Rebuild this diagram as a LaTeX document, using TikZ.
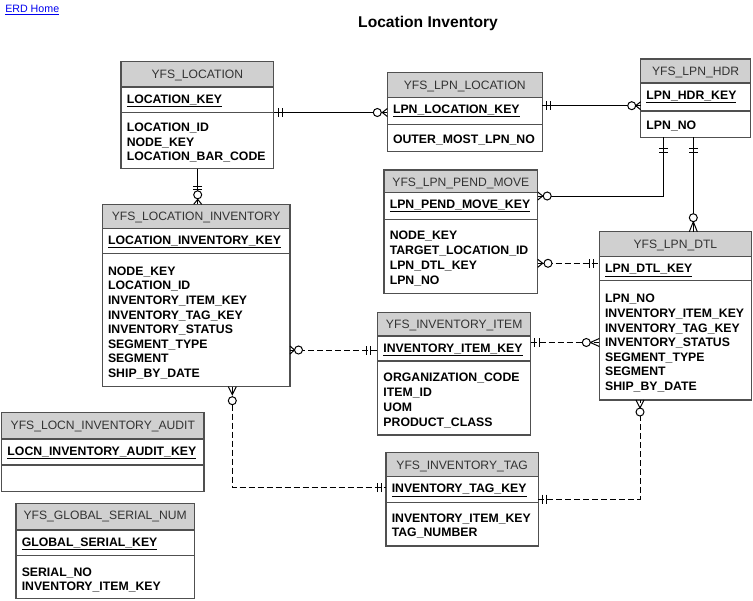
\documentclass[tikz,border=0pt]{standalone}
\usepackage{fontspec}
\setmainfont{Liberation Sans}
\usetikzlibrary{fit}
\definecolor{hdrfill}{RGB}{208,208,208}
\definecolor{boxline}{RGB}{80,80,80}
\definecolor{linkblue}{RGB}{0,0,238}
\tikzset{
  entity/.style={draw=boxline, line width=0.9pt, inner sep=0pt, outer sep=0pt},
  divider/.style={draw=boxline, line width=0.9pt},
  hdrtext/.style={font=\fontsize{9.1pt}{11pt}\selectfont, text=black!80, inner sep=0pt, anchor=base},
  keytext/.style={font=\bfseries\fontsize{9.2pt}{11pt}\selectfont, inner sep=0pt, anchor=base west},
  attrtext/.style={font=\bfseries\fontsize{9.2pt}{11pt}\selectfont, inner sep=0pt, anchor=base west},
  rel/.style={draw=black, line width=0.75pt},
  optrel/.style={rel, dash pattern=on 4.5pt off 2.25pt},
  pics/onebars/.style 2 args={code={\draw[line width=0.75pt] (#1,-4.5)--(#1,4.5) (#2,-4.5)--(#2,4.5);}},
  pics/zmany/.style 2 args={code={\draw[line width=0.75pt] (0,-4)--(#1,0)--(0,4); \draw[line width=0.75pt,fill=white] (#2,0) circle[radius=4];}},
}
% name, left, top, right, header bottom, key bottom, bottom, title, key
\newcommand{\erdentity}[9]{%
  \fill[white] (#2,#3) rectangle (#4,#7);
  \fill[hdrfill] (#2,#3) rectangle (#4,#5);
  \draw[divider] (#2,#5) -- (#4,#5) (#2,#6) -- (#4,#6);
  \node[entity, fit={(#2,#3) (#4,#7)}] (#1) {};
  \node[hdrtext] (#1-title) at ({(#2+#4)/2},{#3+16.5}) {#8};
  \node[keytext] (#1-key) at ({#2+5.5},{#5+16}) {\underline{#9}};
}
% name, left, first centre, spacing, list
\newcommand{\erdattrs}[5]{%
  \foreach \a [count=\i] in {#5} {\node[attrtext] (#1-a\i) at ({#2+5.5},{#3+4.3+(\i-1)*#4}) {\a};}
}
\begin{document}
\begin{tikzpicture}[x=0.75pt,y=-0.75pt]
\useasboundingbox (0,0) rectangle (753,600);

\node[font=\fontsize{8pt}{10pt}\selectfont, text=linkblue, anchor=base west, inner sep=0pt] (home) at (5,12) {\underline{ERD Home}};
\node[font=\bfseries\fontsize{11.7pt}{14pt}\selectfont, anchor=base, inner sep=0pt] (title) at (428,27.3) {Location Inventory};

\erdentity{loc}{121}{61.7}{273.7}{87}{112.3}{168.5}{YFS\_LOCATION}{LOCATION\_KEY}
\erdattrs{loc}{121}{127.5}{14.5}{LOCATION\_ID,NODE\_KEY,LOCATION\_BAR\_CODE}

\erdentity{lpnloc}{387.3}{72.7}{542.3}{97.3}{124.3}{151.7}{YFS\_LPN\_LOCATION}{LPN\_LOCATION\_KEY}
\erdattrs{lpnloc}{387.3}{138.7}{14.6}{OUTER\_MOST\_LPN\_NO}

\erdentity{lpnhdr}{640.7}{59}{750.5}{83}{111}{137.3}{YFS\_LPN\_HDR}{LPN\_HDR\_KEY}
\erdattrs{lpnhdr}{640.7}{125.3}{14.6}{LPN\_NO}

\erdentity{pend}{384}{170}{537.7}{192.3}{219.3}{293.3}{YFS\_LPN\_PEND\_MOVE}{LPN\_PEND\_MOVE\_KEY}
\erdattrs{pend}{384}{235.5}{15}{NODE\_KEY,TARGET\_LOCATION\_ID,LPN\_DTL\_KEY,LPN\_NO}

\erdentity{locinv}{102.3}{204.3}{290}{228.3}{253.3}{386.7}{YFS\_LOCATION\_INVENTORY}{LOCATION\_INVENTORY\_KEY}
\erdattrs{locinv}{102.3}{270.8}{14.64}{NODE\_KEY,LOCATION\_ID,INVENTORY\_ITEM\_KEY,INVENTORY\_TAG\_KEY,INVENTORY\_STATUS,SEGMENT\_TYPE,SEGMENT,SHIP\_BY\_DATE}

\erdentity{lpndtl}{599.3}{231.7}{751.5}{256.7}{280.7}{400}{YFS\_LPN\_DTL}{LPN\_DTL\_KEY}
\erdattrs{lpndtl}{599.3}{298.5}{14.6}{LPN\_NO,INVENTORY\_ITEM\_KEY,INVENTORY\_TAG\_KEY,INVENTORY\_STATUS,SEGMENT\_TYPE,SEGMENT,SHIP\_BY\_DATE}

\erdentity{invitem}{377.7}{312.3}{530.7}{336}{361}{435}{YFS\_INVENTORY\_ITEM}{INVENTORY\_ITEM\_KEY}
\erdattrs{invitem}{377.7}{377.5}{14.9}{ORGANIZATION\_CODE,ITEM\_ID,UOM,PRODUCT\_CLASS}

\erdentity{invtag}{386}{452.7}{538.3}{476.7}{502.7}{546}{YFS\_INVENTORY\_TAG}{INVENTORY\_TAG\_KEY}
\erdattrs{invtag}{386}{518.2}{14.4}{INVENTORY\_ITEM\_KEY,TAG\_NUMBER}

\erdentity{audit}{1.7}{412.7}{204}{439}{465}{491.7}{YFS\_LOCN\_INVENTORY\_AUDIT}{LOCN\_INVENTORY\_AUDIT\_KEY}

\erdentity{global}{16}{503.3}{194.3}{530}{555.7}{598.5}{YFS\_GLOBAL\_SERIAL\_NUM}{GLOBAL\_SERIAL\_KEY}
\erdattrs{global}{16}{572}{14}{SERIAL\_NO,INVENTORY\_ITEM\_KEY}

% c1 loc -> lpnloc
\coordinate (c1a) at (loc.east |- 0,112.5);
\coordinate (c1b) at (lpnloc.west |- 0,112.5);
\draw[rel] (c1a) -- (c1b);
\pic at (c1a) {onebars={5}{8.5}};
\pic[rotate=180] at (c1b) {zmany={5}{10}};

% c2 lpnloc -> lpnhdr
\coordinate (c2a) at (lpnloc.east |- 0,105.7);
\coordinate (c2b) at (lpnhdr.west |- 0,105.7);
\draw[rel] (c2a) -- (c2b);
\pic at (c2a) {onebars={4.5}{8.5}};
\pic[rotate=180] at (c2b) {zmany={5}{9}};

% c3 lpnhdr -> pend
\coordinate (c3a) at (lpnhdr.south -| 663.3,0);
\coordinate (c3b) at (pend.east |- 0,196);
\draw[rel] (c3a) |- (c3b);
\pic[rotate=-90] at (c3a) {onebars={11}{15.4}};
\pic at (c3b) {zmany={5}{9.5}};

% c4 lpnhdr -> lpndtl
\coordinate (c4a) at (lpnhdr.south -| 693.3,0);
\coordinate (c4b) at (lpndtl.north -| 693.3,0);
\draw[rel] (c4a) -- (c4b);
\pic[rotate=-90] at (c4a) {onebars={11}{15.4}};
\pic[rotate=90] at (c4b) {zmany={10}{14}};

% c5 loc -> locinv
\coordinate (c5a) at (loc.south -| 197.7,0);
\coordinate (c5b) at (locinv.north -| 197.7,0);
\draw[rel] (c5a) -- (c5b);
\pic[rotate=-90] at (c5a) {onebars={17.5}{21}};
\pic[rotate=90] at (c5b) {zmany={5}{9.5}};

% c6 pend -> lpndtl (dashed)
\coordinate (c6a) at (pend.east |- 0,263.3);
\coordinate (c6b) at (lpndtl.west |- 0,263.3);
\draw[optrel] (c6a) -- (c6b);
\pic at (c6a) {zmany={5}{10.3}};
\pic[rotate=180] at (c6b) {onebars={6}{10}};

% c7 locinv -> invitem (dashed)
\coordinate (c7a) at (locinv.east |- 0,350);
\coordinate (c7b) at (invitem.west |- 0,350);
\draw[optrel] (c7a) -- (c7b);
\pic at (c7a) {zmany={4.5}{8.5}};
\pic[rotate=180] at (c7b) {onebars={7}{11.5}};

% c8 invitem -> lpndtl (dashed)
\coordinate (c8a) at (invitem.east |- 0,342.5);
\coordinate (c8b) at (lpndtl.west |- 0,342.5);
\draw[optrel] (c8a) -- (c8b);
\pic at (c8a) {onebars={4}{8.5}};
\pic[rotate=180] at (c8b) {zmany={9}{13}};

% c9 locinv -> invtag (dashed)
\coordinate (c9a) at (locinv.south -| 232.3,0);
\coordinate (c9b) at (invtag.west |- 0,487.5);
\draw[optrel] (c9a) |- (c9b);
\pic[rotate=-90] at (c9a) {zmany={8}{14}};
\pic[rotate=180] at (c9b) {onebars={5}{9}};

% c10 invtag -> lpndtl (dashed)
\coordinate (c10a) at (invtag.east |- 0,499);
\coordinate (c10b) at (lpndtl.south -| 640,0);
\draw[optrel] (c10a) -| (c10b);
\pic at (c10a) {onebars={4}{8}};
\pic[rotate=-90] at (c10b) {zmany={8}{12}};
\end{tikzpicture}
\end{document}
